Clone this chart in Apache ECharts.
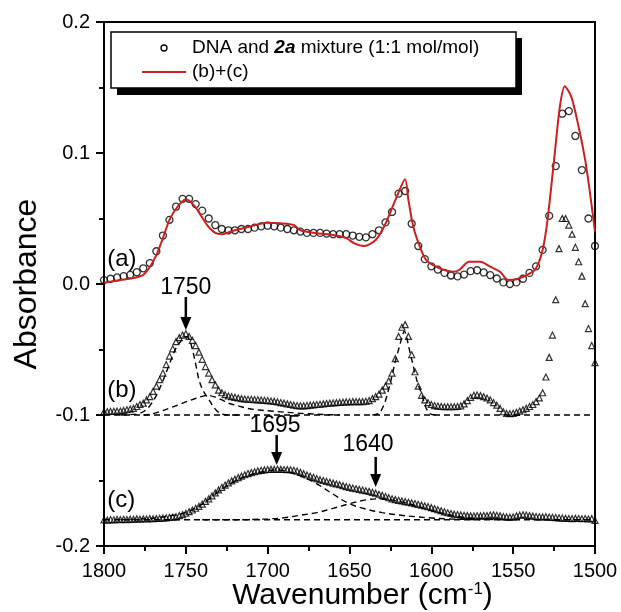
<!DOCTYPE html>
<html><head><meta charset="utf-8">
<script src="https://cdn.jsdelivr.net/npm/echarts@6/dist/echarts.min.js"></script>
<style>html,body{margin:0;padding:0;background:#fff}#c{width:621px;height:612px}</style>
</head><body><div id="c"></div>
<script>
// ---------- DATA ----------
// (a) measured spectrum: DNA and 2a mixture (open circles)
const wnA = [1800,1796,1792,1788,1784,1780,1776,1772,1768,1764,1760,1756,1752,1748,1744,1740,1736,1732,1728,1724,1720,1716,1712,1708,1704,1700,1696,1692,1688,1684,1680,1676,1672,1668,1664,1660,1656,1652,1648,1644,1640,1636,1632,1628,1624,1620,1616,1612,1608,1604,1600,1596,1592,1588,1584,1580,1576,1572,1568,1564,1560,1556,1552,1548,1544,1540,1536,1532,1528,1524,1520,1516,1512,1508,1504,1500];
const absA = [0.003,0.004,0.005,0.006,0.007,0.009,0.012,0.016,0.025,0.037,0.049,0.059,0.065,0.065,0.061,0.056,0.050,0.045,0.042,0.041,0.041,0.042,0.042,0.043,0.044,0.0445,0.044,0.043,0.042,0.041,0.040,0.039,0.039,0.039,0.0385,0.038,0.038,0.038,0.037,0.036,0.0356,0.038,0.041,0.047,0.055,0.069,0.071,0.046,0.029,0.019,0.0135,0.011,0.0085,0.0065,0.0058,0.0072,0.0098,0.0105,0.0088,0.0068,0.0042,0.0012,0.0,0.0012,0.004,0.0085,0.0135,0.026,0.052,0.090,0.130,0.132,0.113,0.087,0.050,0.029];

// (b)+(c) sum (red line)
const wnSum = [1800,1790,1782,1776,1772,1768,1764,1760,1755,1750,1745,1741,1737,1732,1728,1721,1711,1701,1692,1684,1680,1670,1660,1652,1647,1641,1634,1628,1622,1616,1614,1611,1607,1603,1595,1587,1583,1577,1570,1564,1558,1553,1548,1540,1536,1532,1529,1525,1521.5,1518.5,1514.5,1510,1506,1503,1500];
const absSum = [0.001,0.003,0.0046,0.007,0.013,0.022,0.035,0.049,0.059,0.0646,0.060,0.0527,0.045,0.039,0.038,0.0407,0.0437,0.0468,0.0463,0.045,0.041,0.0387,0.0374,0.035,0.031,0.029,0.0336,0.046,0.064,0.080,0.064,0.0437,0.0285,0.018,0.012,0.0094,0.0107,0.017,0.017,0.0132,0.0094,0.003,0.0036,0.008,0.012,0.026,0.049,0.0947,0.135,0.151,0.143,0.120,0.0947,0.069,0.040];

// (b) and (c) spectra (triangles), 2 cm-1 sampling
const wnFine = [1800,1798,1796,1794,1792,1790,1788,1786,1784,1782,1780,1778,1776,1774,1772,1770,1768,1766,1764,1762,1760,1758,1756,1754,1752,1750,1748,1746,1744,1742,1740,1738,1736,1734,1732,1730,1728,1726,1724,1722,1720,1718,1716,1714,1712,1710,1708,1706,1704,1702,1700,1698,1696,1694,1692,1690,1688,1686,1684,1682,1680,1678,1676,1674,1672,1670,1668,1666,1664,1662,1660,1658,1656,1654,1652,1650,1648,1646,1644,1642,1640,1638,1636,1634,1632,1630,1628,1626,1624,1622,1620,1618,1616,1614,1612,1610,1608,1606,1604,1602,1600,1598,1596,1594,1592,1590,1588,1586,1584,1582,1580,1578,1576,1574,1572,1570,1568,1566,1564,1562,1560,1558,1556,1554,1552,1550,1548,1546,1544,1542,1540,1538,1536,1534,1532,1530,1528,1526,1524,1522,1520,1518,1516,1514,1512,1510,1508,1506,1504,1502,1500];
const absB = [-0.0975,-0.0975,-0.0973,-0.0972,-0.0971,-0.097,-0.0965,-0.096,-0.0955,-0.095,-0.0935,-0.092,-0.091,-0.0885,-0.086,-0.082,-0.078,-0.073,-0.068,-0.0615,-0.055,-0.0495,-0.044,-0.041,-0.039,-0.038,-0.040,-0.043,-0.047,-0.052,-0.0575,-0.063,-0.068,-0.073,-0.077,-0.081,-0.083,-0.0845,-0.0855,-0.086,-0.0865,-0.087,-0.0875,-0.0878,-0.088,-0.088,-0.0882,-0.0884,-0.0886,-0.0888,-0.089,-0.0893,-0.0896,-0.09,-0.0905,-0.091,-0.0915,-0.092,-0.0925,-0.0928,-0.093,-0.093,-0.0928,-0.0925,-0.0922,-0.092,-0.0918,-0.0915,-0.0912,-0.091,-0.0908,-0.0906,-0.0904,-0.0902,-0.09,-0.09,-0.0898,-0.0898,-0.0898,-0.0898,-0.0895,-0.089,-0.0875,-0.086,-0.084,-0.081,-0.078,-0.074,-0.068,-0.057,-0.040,-0.033,-0.031,-0.040,-0.054,-0.067,-0.078,-0.085,-0.0885,-0.0905,-0.092,-0.0928,-0.0932,-0.0935,-0.0937,-0.0937,-0.0937,-0.0937,-0.0935,-0.093,-0.0915,-0.089,-0.0865,-0.085,-0.0847,-0.0852,-0.086,-0.087,-0.0885,-0.0905,-0.0925,-0.095,-0.0975,-0.0988,-0.099,-0.0987,-0.098,-0.097,-0.096,-0.095,-0.0935,-0.092,-0.0898,-0.087,-0.083,-0.071,-0.056,-0.039,-0.012,0.027,0.050,0.050,0.045,0.038,0.028,0.017,0.006,-0.015,-0.034,-0.047,-0.060];
const absC = [-0.1800,-0.1802,-0.1798,-0.1800,-0.1797,-0.1799,-0.1796,-0.1798,-0.1795,-0.1796,-0.1793,-0.1795,-0.1792,-0.1794,-0.1791,-0.1792,-0.1790,-0.1789,-0.1787,-0.1785,-0.1782,-0.1779,-0.1776,-0.1768,-0.1760,-0.1750,-0.1738,-0.1725,-0.1712,-0.1697,-0.1680,-0.1660,-0.1640,-0.1618,-0.1595,-0.1572,-0.1552,-0.1535,-0.1518,-0.1503,-0.1490,-0.1478,-0.1467,-0.1456,-0.1447,-0.1440,-0.1433,-0.1427,-0.1422,-0.1419,-0.1416,-0.1415,-0.1415,-0.1414,-0.1415,-0.1416,-0.1417,-0.1418,-0.1422,-0.1428,-0.1438,-0.1448,-0.1458,-0.1467,-0.1476,-0.1485,-0.1494,-0.1500,-0.1507,-0.1513,-0.1520,-0.1526,-0.1532,-0.1539,-0.1546,-0.1552,-0.1558,-0.1563,-0.1568,-0.1573,-0.1578,-0.1583,-0.1590,-0.1597,-0.1605,-0.1613,-0.1622,-0.1631,-0.1640,-0.1646,-0.1651,-0.1656,-0.1661,-0.1666,-0.1671,-0.1676,-0.1682,-0.1688,-0.1694,-0.1700,-0.1707,-0.1715,-0.1723,-0.1731,-0.1739,-0.1746,-0.1752,-0.1757,-0.1760,-0.1763,-0.1766,-0.1768,-0.1770,-0.1771,-0.1769,-0.1770,-0.1767,-0.1768,-0.1764,-0.1762,-0.1766,-0.1770,-0.1775,-0.1778,-0.1780,-0.1778,-0.1770,-0.1765,-0.1762,-0.1764,-0.1768,-0.1772,-0.1775,-0.1777,-0.1778,-0.1776,-0.1779,-0.1781,-0.1783,-0.1785,-0.1787,-0.1789,-0.1790,-0.1791,-0.1789,-0.1790,-0.1792,-0.1790,-0.1794,-0.1791,-0.1805];

// fitted components (dashed)
const wnBase = [1800,1500];
const baseB = [-0.1,-0.1];
const baseC = [-0.18,-0.18];
const wnB1750 = [1790,1780,1776,1772,1768,1764,1760,1756,1752,1750,1748,1746,1744,1742,1740,1738,1736,1734,1732,1730,1728,1724,1716];
const fitB1750 = [-0.1,-0.0993,-0.0975,-0.093,-0.085,-0.074,-0.061,-0.049,-0.042,-0.040,-0.042,-0.050,-0.061,-0.073,-0.080,-0.0845,-0.088,-0.092,-0.0955,-0.098,-0.0993,-0.1,-0.1];
const wnBbroad = [1776,1772,1766,1760,1755,1750,1745,1740,1737,1733,1728,1724,1718,1712,1705,1698,1692,1684,1676,1666,1656];
const fitBbroad = [-0.1,-0.0995,-0.0975,-0.0948,-0.0925,-0.090,-0.0878,-0.0858,-0.085,-0.086,-0.0885,-0.091,-0.093,-0.095,-0.0962,-0.097,-0.0976,-0.0984,-0.099,-0.0996,-0.1];
const wnB1616 = [1636,1632,1630,1628,1626,1624,1622,1620,1618,1616.5,1615,1614,1612,1610,1608,1606,1604,1602,1600,1596];
const fitB1616 = [-0.1,-0.0987,-0.095,-0.089,-0.080,-0.070,-0.059,-0.050,-0.041,-0.036,-0.041,-0.047,-0.0575,-0.068,-0.077,-0.0835,-0.092,-0.0975,-0.0995,-0.1];
const wnC1695 = [1790,1780,1770,1760,1750,1740,1730,1720,1710,1700,1695,1690,1680,1670,1660,1650,1640,1630,1620,1610,1600,1590,1580,1570];
const fitC1695 = [-0.1799,-0.1795,-0.1788,-0.177,-0.1745,-0.168,-0.1585,-0.1505,-0.1455,-0.1425,-0.142,-0.1425,-0.1465,-0.1525,-0.1605,-0.1678,-0.1718,-0.1745,-0.1763,-0.1776,-0.1786,-0.1793,-0.1797,-0.18];
const wnC1640 = [1740,1720,1710,1700,1690,1680,1670,1660,1650,1640,1632,1620,1610,1600,1590,1580,1570,1560,1550];
const fitC1640 = [-0.18,-0.18,-0.1798,-0.1793,-0.1785,-0.1765,-0.1745,-0.1713,-0.1677,-0.1648,-0.164,-0.1657,-0.1691,-0.173,-0.1761,-0.1782,-0.1793,-0.1798,-0.18];

// annotations
const peakLabels = ['1750','1695','1640'];
const peakWn = [1750,1694.5,1634];
const peakArrowTop = [-0.0099,-0.1153,-0.132];
const peakArrowTip = [-0.0351,-0.1382,-0.155];
const peakLabelWn = [1750,1695.5,1638.7];
const peakLabelVal = [-0.0030,-0.1085,-0.1228];
const traceLabels = ['(a)','(b)','(c)'];
const traceLabelVal = [0.019,-0.081,-0.165];
const traceLabelWn = 1798;

const xTicks = [1500,1550,1600,1650,1700,1750,1800];
const yTicks = [-0.2,-0.1,0.0,0.1,0.2];

// ---------- CHART ----------
const FONT = '"Liberation Sans", Arial, Helvetica, sans-serif';
const zip = (xs, ys) => xs.map((x, i) => [x, ys[i]]);
const chart = echarts.init(document.getElementById('c'), null, {renderer: 'canvas'});

const dashStyle = {color: '#000', width: 1.4, type: [6, 4]};
function dashed(name, xs, ys, smooth) {
  return {name, type: 'line', data: zip(xs, ys), showSymbol: false, symbol: 'none',
    smooth: smooth ? 0.35 : false, lineStyle: dashStyle, z: 2, silent: true};
}
function tri(name, ys) {
  return {name, type: 'scatter', data: zip(wnFine, ys), symbol: 'triangle', symbolSize: 6,
    itemStyle: {color: 'rgba(0,0,0,0)', borderColor: '#000', borderWidth: 1.2}, z: 3, silent: true};
}

chart.setOption({
  animation: false,
  backgroundColor: '#fff',
  grid: {left: 104, right: 26, top: 22, bottom: 66, containLabel: false, outerBoundsMode: 'none',
    show: true, borderColor: '#000', borderWidth: 2, backgroundColor: 'rgba(0,0,0,0)'},
  xAxis: {
    type: 'value', min: xTicks[0], max: xTicks[xTicks.length - 1], interval: 50, inverse: true,
    axisLine: {show: true, onZero: false, lineStyle: {color: '#000', width: 2}},
    axisTick: {show: true, inside: false, length: 8, lineStyle: {color: '#000', width: 2}},
    minorTick: {show: true, splitNumber: 2, length: 5, lineStyle: {color: '#000', width: 2}},
    splitLine: {show: false},
    axisLabel: {color: '#000', fontSize: 20, fontFamily: FONT, margin: 15, formatter: v => String(v)},
    name: 'Wavenumber (cm{sup|-1})', nameLocation: 'middle', nameGap: 35, nameMoveOverlap: false,
    nameTextStyle: {color: '#000', fontSize: 30, fontFamily: FONT, verticalAlign: 'top', padding: [0, 0, 0, 26],
      rich: {sup: {fontSize: 17, fontFamily: FONT, color: '#000', verticalAlign: 'top', lineHeight: 14}}}
  },
  yAxis: {
    type: 'value', min: yTicks[0], max: yTicks[yTicks.length - 1], interval: 0.1,
    axisLine: {show: true, onZero: false, lineStyle: {color: '#000', width: 2}},
    axisTick: {show: true, inside: false, length: 8, lineStyle: {color: '#000', width: 2}},
    minorTick: {show: true, splitNumber: 2, length: 5, lineStyle: {color: '#000', width: 2}},
    splitLine: {show: false},
    axisLabel: {color: '#000', fontSize: 20, fontFamily: FONT, margin: 14, formatter: v => v.toFixed(1)},
    name: 'Absorbance', nameLocation: 'middle', nameGap: 61, nameRotate: 90, nameMoveOverlap: false,
    nameTextStyle: {color: '#000', fontSize: 32, fontFamily: FONT}
  },
  series: [
    dashed('baseB', wnBase, baseB, false),
    dashed('baseC', wnBase, baseC, false),
    dashed('fitB1750', wnB1750, fitB1750, true),
    dashed('fitBbroad', wnBbroad, fitBbroad, true),
    dashed('fitB1616', wnB1616, fitB1616, true),
    dashed('fitC1695', wnC1695, fitC1695, true),
    dashed('fitC1640', wnC1640, fitC1640, true),
    tri('(b)', absB),
    tri('(c)', absC),
    {name: 'DNA and 2a mixture (1:1 mol/mol)', type: 'scatter', data: zip(wnA, absA), symbol: 'circle', symbolSize: 7,
      itemStyle: {color: 'rgba(0,0,0,0)', borderColor: '#000', borderWidth: 1.3}, z: 4, silent: true},
    {name: '(b)+(c)', type: 'line', data: zip(wnSum, absSum), showSymbol: false, symbol: 'none', smooth: 0.25,
      lineStyle: {color: '#cc1f1f', width: 2}, z: 5, silent: true}
  ]
});

// ---------- ANNOTATIONS ----------
const px = (w, v) => chart.convertToPixel({gridIndex: 0}, [w, v]);
const graphics = [];
graphics.push({type: 'rect', shape: {x: 117, y: 38, width: 405, height: 57}, style: {fill: '#000'}, z: 10});
graphics.push({type: 'rect', shape: {x: 111, y: 32, width: 405, height: 56}, style: {fill: '#fff', stroke: '#000', lineWidth: 1.5}, z: 11});
graphics.push({type: 'circle', shape: {cx: 164, cy: 48, r: 3}, style: {fill: 'none', stroke: '#000', lineWidth: 1.3}, z: 12});
graphics.push({type: 'text', x: 192, y: 48, z: 12, style: {text: 'DNA and {bi|2a} mixture (1:1 mol/mol)', fontSize: 19, fontFamily: FONT, fill: '#000', textVerticalAlign: 'middle', textAlign: 'left',
  rich: {bi: {fontSize: 19, fontFamily: FONT, fontWeight: 'bold', fontStyle: 'italic', fill: '#000'}}}});
graphics.push({type: 'line', shape: {x1: 142, y1: 72, x2: 186, y2: 72}, style: {stroke: '#cc1f1f', lineWidth: 2}, z: 12});
graphics.push({type: 'text', x: 192, y: 72, z: 12, style: {text: '(b)+(c)', fontSize: 19, fontFamily: FONT, fill: '#000', textVerticalAlign: 'middle', textAlign: 'left'}});

traceLabels.forEach((t, i) => {
  const p = px(traceLabelWn, traceLabelVal[i]);
  graphics.push({type: 'text', x: p[0], y: p[1], z: 12, style: {text: t, fontSize: 24, fontFamily: FONT, fill: '#000', textAlign: 'left', textVerticalAlign: 'middle'}});
});
peakLabels.forEach((t, i) => {
  const lp = px(peakLabelWn[i], peakLabelVal[i]);
  graphics.push({type: 'text', x: lp[0], y: lp[1], z: 12, style: {text: t, fontSize: 23, fontFamily: FONT, fill: '#000', textAlign: 'center', textVerticalAlign: 'middle'}});
  const a = px(peakWn[i], peakArrowTop[i]);
  const b = px(peakWn[i], peakArrowTip[i]);
  graphics.push({type: 'line', shape: {x1: a[0], y1: a[1], x2: b[0], y2: b[1] - 10}, style: {stroke: '#000', lineWidth: 2.5}, z: 12});
  graphics.push({type: 'polygon', shape: {points: [[b[0] - 5.5, b[1] - 13], [b[0] + 5.5, b[1] - 13], [b[0], b[1]]]}, style: {fill: '#000'}, z: 12});
});
chart.setOption({graphic: graphics});
</script></body></html>
